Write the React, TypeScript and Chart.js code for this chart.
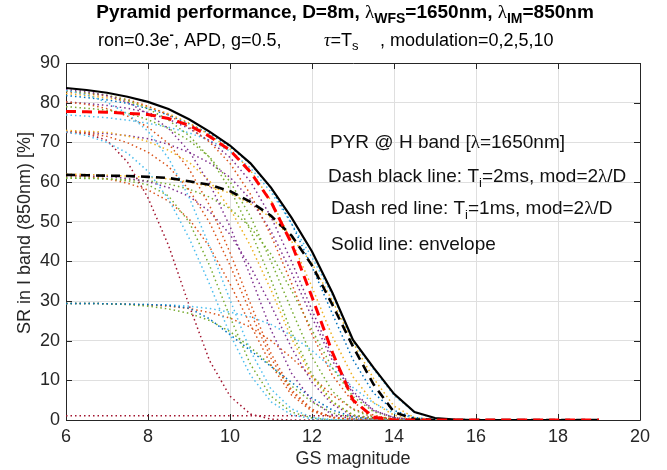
import React, { useEffect, useRef } from "react";
import { Chart, registerables } from "chart.js";

Chart.register(...registerables);

// GS magnitude grid (x)
const mags = [6, 6.5, 7, 7.5, 8, 8.5, 9, 9.5, 10, 10.5, 11, 11.5, 12, 12.5, 13, 13.5, 14, 14.5, 15, 15.5, 16, 16.5, 17, 17.5, 18, 18.5, 19];

const xTicks = [6, 8, 10, 12, 14, 16, 18, 20];
const yTicks = [0, 10, 20, 30, 40, 50, 60, 70, 80, 90];

// Highlighted curves
const envelope = [83.7, 83.2, 82.5, 81.5, 80.2, 78.4, 75.8, 72.7, 69.2, 64.7, 58.6, 51.0, 42.5, 32.0, 20.2, 13.2, 6.6, 2.0, 0.5, 0.1, 0, 0, 0, 0, 0, 0, 0];
const dashRed = [77.8, 77.7, 77.6, 77.3, 77.0, 76.0, 74.3, 71.5, 68.0, 62.5, 55.0, 44.5, 31.0, 17.0, 5.0, 0.7, 0, 0, 0, 0, 0, 0, 0, 0, 0, 0, 0];
const dashBlack = [61.8, 61.7, 61.6, 61.5, 61.3, 61.0, 60.2, 59.3, 57.7, 55.0, 51.5, 46.5, 39.0, 29.0, 18.5, 9.0, 2.0, 0.2, 0, 0, 0, 0, 0, 0, 0, 0, 0];

// Dotted family of curves
const a1 = [83.1, 82.0, 80.1, 77.2, 72.8, 66.0, 56.2, 43.8, 30.3, 17.4, 7.8, 2.8, 0.7, 0.1, 0, 0, 0, 0, 0, 0, 0, 0, 0, 0, 0, 0, 0];
const a2 = [83.3, 82.8, 81.8, 80.1, 77.2, 73.5, 67.8, 59.6, 48.8, 36.3, 22.7, 11.8, 4.8, 1.3, 0.3, 0, 0, 0, 0, 0, 0, 0, 0, 0, 0, 0, 0];
const a3 = [83.0, 82.5, 81.9, 80.6, 78.5, 75.6, 71.7, 66.2, 58.2, 47.7, 35.4, 22.1, 11.5, 4.6, 1.3, 0.3, 0, 0, 0, 0, 0, 0, 0, 0, 0, 0, 0];
const a4 = [82.8, 82.3, 81.7, 80.8, 79.1, 76.9, 73.8, 70.1, 64.7, 56.9, 46.5, 34.5, 21.6, 11.2, 4.5, 1.2, 0.2, 0, 0, 0, 0, 0, 0, 0, 0, 0, 0];
const a5 = [82.3, 81.8, 81.2, 80.3, 79.0, 77.2, 74.9, 71.9, 68.3, 62.9, 55.3, 45.2, 33.5, 21.0, 10.9, 4.4, 1.2, 0.2, 0, 0, 0, 0, 0, 0, 0, 0, 0];
const a6 = [81.8, 81.3, 80.7, 79.8, 78.5, 76.9, 74.7, 72.2, 68.9, 64.6, 58.4, 49.6, 38.6, 26.7, 15.2, 6.8, 2.4, 0.6, 0.1, 0, 0, 0, 0, 0, 0, 0, 0];
const b1 = [80.2, 79.6, 78.5, 76.6, 73.8, 69.7, 63.3, 54.1, 42.2, 29.3, 16.8, 7.6, 2.7, 0.7, 0.1, 0, 0, 0, 0, 0, 0, 0, 0, 0, 0, 0, 0];
const b2 = [79.0, 78.6, 78.1, 77.4, 75.7, 73.5, 70.5, 66.3, 60.1, 51.3, 40.0, 27.8, 15.9, 7.2, 2.6, 0.6, 0.1, 0, 0, 0, 0, 0, 0, 0, 0, 0, 0];
const b3 = [80.2, 79.8, 79.3, 78.6, 77.5, 75.8, 73.5, 70.4, 66.2, 60.1, 51.2, 40.0, 27.7, 15.9, 7.2, 2.5, 0.6, 0.1, 0, 0, 0, 0, 0, 0, 0, 0, 0];
const t1 = [76.9, 76.6, 76.2, 75.6, 74.8, 73.8, 72.4, 70.5, 67.8, 63.5, 57.5, 49.5, 41.0, 31.5, 19.8, 12.8, 6.2, 1.9, 0.4, 0, 0, 0, 0, 0, 0, 0, 0];
const c1 = [72.6, 71.7, 70.0, 67.3, 62.7, 55.7, 45.9, 34.3, 21.6, 11.3, 4.6, 1.3, 0.3, 0, 0, 0, 0, 0, 0, 0, 0, 0, 0, 0, 0, 0, 0];
const c2 = [72.7, 72.4, 71.5, 69.9, 67.5, 63.9, 58.1, 49.8, 39.0, 27.1, 15.6, 7.1, 2.5, 0.6, 0.1, 0, 0, 0, 0, 0, 0, 0, 0, 0, 0, 0, 0];
const c3 = [73.0, 72.8, 72.5, 71.6, 70.2, 68.0, 65.0, 60.3, 53.3, 43.9, 32.8, 20.6, 10.8, 4.4, 1.2, 0.2, 0, 0, 0, 0, 0, 0, 0, 0, 0, 0, 0];
const c4 = [72.7, 72.5, 72.2, 71.7, 70.9, 69.5, 67.5, 64.8, 61.2, 55.6, 47.6, 37.2, 25.9, 14.9, 6.7, 2.4, 0.6, 0.1, 0, 0, 0, 0, 0, 0, 0, 0, 0];
const dr1 = [72.5, 72.2, 70.5, 65.0, 56.0, 44.0, 29.0, 15.0, 6.0, 1.5, 0.2, 0, 0, 0, 0, 0, 0, 0, 0, 0, 0, 0, 0, 0, 0, 0, 0];
const d1 = [61.0, 61.0, 60.8, 60.3, 59.3, 56.5, 50.0, 39.0, 26.0, 14.0, 6.0, 2.0, 0.5, 0, 0, 0, 0, 0, 0, 0, 0, 0, 0, 0, 0, 0, 0];
const d2 = [61.6, 61.4, 60.8, 59.7, 58.0, 55.2, 50.7, 43.7, 34.3, 24.0, 13.9, 6.3, 2.2, 0.6, 0.1, 0, 0, 0, 0, 0, 0, 0, 0, 0, 0, 0, 0];
const d3 = [61.6, 61.5, 61.4, 60.9, 60.1, 58.6, 56.4, 52.6, 46.8, 38.6, 28.9, 18.2, 9.5, 3.9, 1.1, 0.2, 0, 0, 0, 0, 0, 0, 0, 0, 0, 0, 0];
const d4 = [61.0, 60.9, 60.8, 60.6, 60.3, 59.5, 58.2, 56.2, 53.3, 48.6, 41.8, 32.7, 22.7, 13.1, 5.9, 2.1, 0.5, 0.1, 0, 0, 0, 0, 0, 0, 0, 0, 0];
const d5 = [62.0, 61.9, 61.7, 61.5, 61.2, 60.8, 60.0, 58.9, 57.2, 54.5, 51.0, 46.0, 39.5, 30.0, 19.5, 10.5, 3.5, 0.6, 0.1, 0, 0, 0, 0, 0, 0, 0, 0];
const e1 = [29.4, 29.4, 29.3, 29.2, 29.1, 28.9, 28.2, 25.5, 21.5, 17.5, 13.5, 9.5, 5.5, 2.5, 0.8, 0.2, 0, 0, 0, 0, 0, 0, 0, 0, 0, 0, 0];
const e2 = [29.4, 29.4, 29.3, 29.1, 28.7, 28.0, 26.9, 25.1, 22.3, 18.3, 13.7, 8.6, 4.5, 1.8, 0.5, 0.1, 0, 0, 0, 0, 0, 0, 0, 0, 0, 0, 0];
const e3 = [29.4, 29.4, 29.3, 29.2, 29.0, 28.7, 28.1, 27.1, 25.7, 23.4, 20.0, 15.7, 10.9, 6.2, 2.8, 1.0, 0.2, 0, 0, 0, 0, 0, 0, 0, 0, 0, 0];
const e4 = [29.4, 29.4, 29.3, 29.2, 29.1, 29.0, 28.7, 28.1, 27.2, 26.0, 24.1, 21.3, 17.5, 13.0, 8.2, 4.3, 1.7, 0.5, 0.1, 0, 0, 0, 0, 0, 0, 0, 0];
const f1 = [1.1, 1.1, 1.1, 1.1, 1.1, 1.1, 1.1, 1.1, 1.1, 1.1, 1.1, 1.1, 1.1, 1.1, 1.1, 0.6, 0.2, 0, 0, 0, 0, 0, 0, 0, 0, 0, 0];

const BLUE = "#0072BD";
const ORANGE = "#D95319";
const YELLOW = "#EDB120";
const PURPLE = "#7E2F8E";
const GREEN = "#77AC30";
const LIGHTBLUE = "#4DBEEE";
const DARKRED = "#A2142F";

const dottedSeries: [number[], string][] = [
  [a1, LIGHTBLUE], [a2, PURPLE], [a3, GREEN], [a4, ORANGE], [a5, YELLOW], [a6, BLUE],
  [b1, ORANGE], [b2, GREEN], [b3, PURPLE], [t1, LIGHTBLUE],
  [c1, LIGHTBLUE], [c2, ORANGE], [c3, YELLOW], [c4, PURPLE], [dr1, DARKRED],
  [d1, GREEN], [d2, ORANGE], [d3, PURPLE], [d4, GREEN], [d5, YELLOW],
  [e1, BLUE], [e2, GREEN], [e3, ORANGE], [e4, LIGHTBLUE], [f1, DARKRED],
];

const SANS = '"Liberation Sans", Arial, Helvetica, sans-serif';
const SERIF = '"Liberation Serif", "DejaVu Serif", serif';
const AXIS_COLOR = "#262626";

type Seg = { t: string; font: string; dy?: number };

function drawRich(ctx: CanvasRenderingContext2D, segs: Seg[], x: number, y: number, align: "left" | "center" | "right", color: string) {
  ctx.save();
  ctx.textBaseline = "alphabetic";
  ctx.textAlign = "left";
  ctx.fillStyle = color;
  let total = 0;
  const widths = segs.map((s) => {
    ctx.font = s.font;
    const w = ctx.measureText(s.t).width;
    total += w;
    return w;
  });
  let cx = align === "center" ? x - total / 2 : align === "right" ? x - total : x;
  segs.forEach((s, i) => {
    ctx.font = s.font;
    ctx.fillText(s.t, cx, y + (s.dy || 0));
    cx += widths[i];
  });
  ctx.restore();
}

const decorPlugin = {
  id: "decor",
  beforeDatasetsDraw(chart: any) {
    const { ctx, chartArea } = chart;
    const { left, right, top, bottom } = chartArea;
    const xs = chart.scales.x;
    const ys = chart.scales.y;
    ctx.save();
    ctx.strokeStyle = AXIS_COLOR;
    ctx.lineWidth = 1;
    ctx.beginPath();
    ctx.rect(Math.round(left) + 0.5, Math.round(top) + 0.5, Math.round(right - left), Math.round(bottom - top));
    ctx.stroke();
    const tl = 6;
    ctx.beginPath();
    xTicks.forEach((v) => {
      const px = Math.round(xs.getPixelForValue(v)) + 0.5;
      ctx.moveTo(px, bottom);
      ctx.lineTo(px, bottom - tl);
      ctx.moveTo(px, top);
      ctx.lineTo(px, top + tl);
    });
    yTicks.forEach((v) => {
      const py = Math.round(ys.getPixelForValue(v)) + 0.5;
      ctx.moveTo(left, py);
      ctx.lineTo(left + tl, py);
      ctx.moveTo(right, py);
      ctx.lineTo(right - tl, py);
    });
    ctx.stroke();
    ctx.restore();
  },
  afterDraw(chart: any) {
    const { ctx, chartArea } = chart;
    const cxArea = (chartArea.left + chartArea.right) / 2;
    // Title
    drawRich(ctx, [
      { t: "Pyramid performance, D=8m, ", font: `bold 19px ${SANS}` },
      { t: "\u03BB", font: `19px ${SERIF}` },
      { t: "WFS", font: `bold 14px ${SANS}`, dy: 5 },
      { t: "=1650nm, ", font: `bold 19px ${SANS}` },
      { t: "\u03BB", font: `19px ${SERIF}` },
      { t: "IM", font: `bold 14px ${SANS}`, dy: 5 },
      { t: "=850nm", font: `bold 19px ${SANS}` },
    ], 345, 18, "center", "#000");
    // Subtitle (three groups, as spaced in the original)
    const SF = `18px ${SANS}`;
    drawRich(ctx, [
      { t: "ron=0.3e", font: SF },
      { t: "-", font: `bold 13px ${SANS}`, dy: -7 },
      { t: ", APD, g=0.5,", font: SF },
    ], 98, 46, "left", "#000");
    drawRich(ctx, [
      { t: "\u03C4", font: `italic 18px ${SERIF}` },
      { t: "=T", font: SF },
      { t: "s", font: `13px ${SANS}`, dy: 4 },
    ], 324, 46, "left", "#000");
    drawRich(ctx, [{ t: ", modulation=0,2,5,10", font: SF }], 380, 46, "left", "#000");
    // Axis titles
    ctx.save();
    ctx.fillStyle = AXIS_COLOR;
    ctx.font = `18px ${SANS}`;
    ctx.textAlign = "center";
    ctx.textBaseline = "alphabetic";
    ctx.fillText("GS magnitude", cxArea, 464);
    ctx.translate(30, 233);
    ctx.rotate(-Math.PI / 2);
    ctx.fillText("SR in I band (850nm) [%]", 0, 0);
    ctx.restore();
    // Annotations
    const F = `19px ${SANS}`;
    const FS = `13px ${SANS}`;
    const FL = `19px ${SERIF}`;
    drawRich(ctx, [
      { t: "PYR @ H band [", font: F },
      { t: "\u03BB", font: FL },
      { t: "=1650nm]", font: F },
    ], 330, 148, "left", "#111");
    drawRich(ctx, [
      { t: "Dash black line: T", font: F },
      { t: "i", font: FS, dy: 5 },
      { t: "=2ms, mod=2", font: F },
      { t: "\u03BB", font: FL },
      { t: "/D", font: F },
    ], 328, 182, "left", "#111");
    drawRich(ctx, [
      { t: "Dash red line: T", font: F },
      { t: "i", font: FS, dy: 5 },
      { t: "=1ms, mod=2", font: F },
      { t: "\u03BB", font: FL },
      { t: "/D", font: F },
    ], 331, 214, "left", "#111");
    drawRich(ctx, [{ t: "Solid line: envelope", font: F }], 331, 250, "left", "#111");
  },
};

function toPoints(vals: number[]) {
  return mags.map((m, i) => ({ x: m, y: vals[i] }));
}

export default function App() {
  const ref = useRef<HTMLCanvasElement | null>(null);
  useEffect(() => {
    if (!ref.current) return;
    const datasets: any[] = dottedSeries.map(([vals, color], i) => ({
      label: `dotted${i}`,
      data: toPoints(vals),
      borderColor: color,
      borderWidth: 1.5,
      borderDash: [1.5, 3],
      borderCapStyle: "butt",
      pointRadius: 0,
      tension: 0,
      order: 10,
    }));
    datasets.push({
      label: "Dash black",
      data: toPoints(dashBlack),
      borderColor: "#000",
      borderWidth: 2.6,
      borderDash: [9, 6],
      pointRadius: 0,
      tension: 0,
      order: 3,
    });
    datasets.push({
      label: "Envelope",
      data: toPoints(envelope),
      borderColor: "#000",
      borderWidth: 2.2,
      pointRadius: 0,
      tension: 0,
      order: 2,
    });
    datasets.push({
      label: "Dash red",
      data: toPoints(dashRed),
      borderColor: "#FF0000",
      borderWidth: 3,
      borderDash: [10, 6],
      pointRadius: 0,
      tension: 0,
      order: 1,
    });
    const tickFont = { family: SANS, size: 18 };
    const chart = new Chart(ref.current, {
      type: "line",
      data: { datasets },
      options: {
        animation: false,
        responsive: false,
        devicePixelRatio: 1,
        layout: { padding: { top: 63, right: 27, left: 0, bottom: 0 } },
        plugins: {
          legend: { display: false },
          tooltip: { enabled: false },
          title: { display: false },
        },
        scales: {
          x: {
            type: "linear",
            min: 6,
            max: 20,
            afterBuildTicks: (s: any) => { s.ticks = xTicks.map((v) => ({ value: v })); },
            ticks: { color: AXIS_COLOR, font: tickFont, padding: 6, maxRotation: 0, autoSkip: false },
            grid: { color: "#dfdfdf", lineWidth: 1, drawTicks: false },
            border: { display: false },
            afterFit: (s: any) => { s.height = 50; },
          },
          y: {
            type: "linear",
            min: 0,
            max: 90,
            afterBuildTicks: (s: any) => { s.ticks = yTicks.map((v) => ({ value: v })); },
            ticks: { color: AXIS_COLOR, font: tickFont, padding: 6, autoSkip: false },
            grid: { color: "#dfdfdf", lineWidth: 1, drawTicks: false },
            border: { display: false },
            afterFit: (s: any) => { s.width = 66; },
          },
        },
      } as any,
      plugins: [decorPlugin],
    });
    return () => chart.destroy();
  }, []);
  return (
    <div style={{ position: "fixed", left: 0, top: 0, width: 667, height: 470, background: "#fff" }}>
      <canvas ref={ref} width={667} height={470} style={{ display: "block", width: 667, height: 470 }} />
    </div>
  );
}
